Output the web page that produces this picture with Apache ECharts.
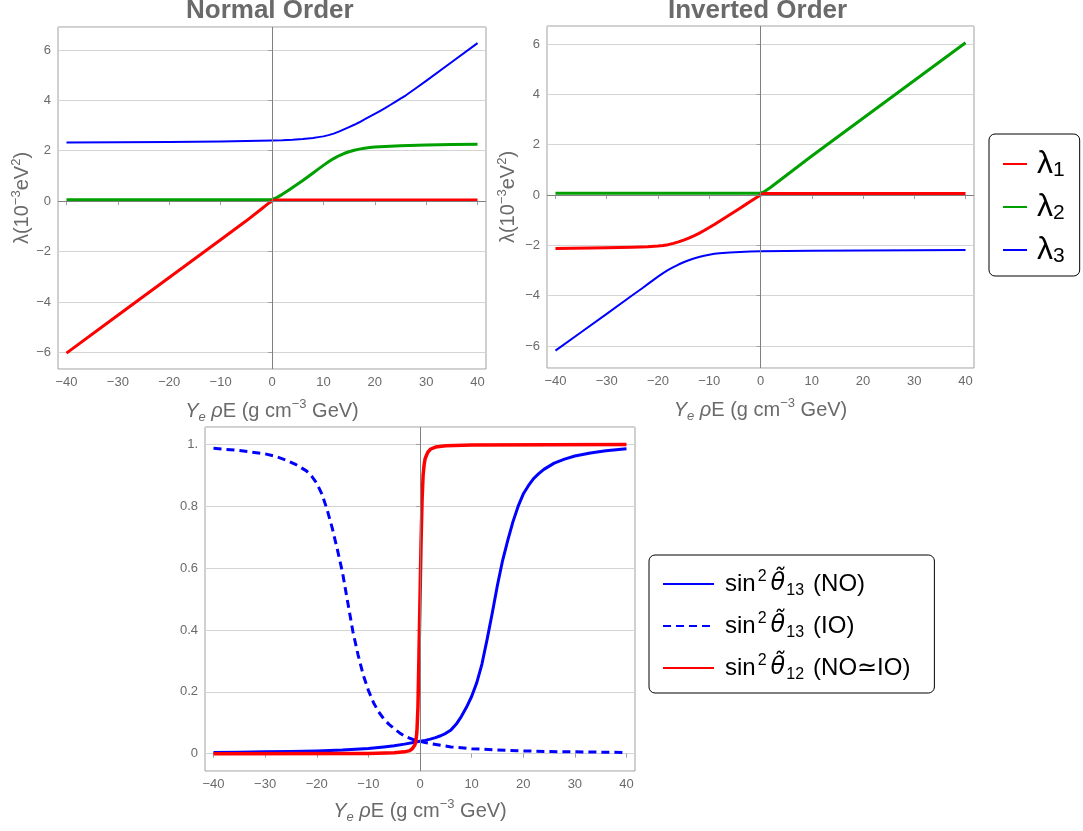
<!DOCTYPE html>
<html>
<head>
<meta charset="utf-8">
<script src="https://cdn.jsdelivr.net/npm/echarts@6/dist/echarts.min.js"></script>
<style>
html,body{margin:0;padding:0;background:#fff;}
#chart{width:1083px;height:831px;}
</style>
</head>
<body>
<div id="chart"></div>
<script>
// ---------- Data ----------
// Normal Order eigenvalues (10^-3 eV^2) vs Ye*rho*E
const noL1X = [-40,-30,-20,-10,-5,-2,-1,-0.5,0,0.5,1,5,10,20,30,40];
const noL1Y = [-6.03,-4.53,-3.03,-1.53,-0.78,-0.3,-0.14,-0.06,0.0,0.04,0.05,0.05,0.05,0.05,0.05,0.05];
const noL2X = [-40,-20,-5,0,1,2,3,4,5,6,7,8,9,10,11,12,13,14,15,16,17,18,19,20,22,25,30,35,40];
const noL2Y = [0.06,0.06,0.06,0.06,0.15,0.27,0.4,0.54,0.68,0.82,0.97,1.12,1.27,1.42,1.56,1.69,1.8,1.89,1.96,2.02,2.065,2.1,2.125,2.145,2.17,2.2,2.23,2.25,2.26];
const noL3X = [-40,-20,-10,-5,0,2,4,6,8,9,10,11,12,13,14,15,16,17,18,19,20,21,22,23,24,25,26,28,30,35,40];
const noL3Y = [2.33,2.35,2.37,2.39,2.41,2.42,2.44,2.47,2.51,2.54,2.57,2.62,2.68,2.76,2.85,2.94,3.03,3.13,3.24,3.35,3.46,3.575,3.69,3.815,3.94,4.065,4.19,4.48,4.77,5.52,6.27];

// Inverted Order eigenvalues
const ioL1X = [-40,-30,-25,-22,-20,-19,-18,-17,-16,-15,-14,-13,-12,-11,-10,-9,-8,-7,-6,-5,-4,-3,-2,-1,0,0.5,1,10,20,30,40];
const ioL1Y = [-2.12,-2.09,-2.07,-2.05,-2.02,-2.0,-1.97,-1.92,-1.86,-1.79,-1.71,-1.62,-1.52,-1.41,-1.29,-1.17,-1.04,-0.91,-0.78,-0.65,-0.52,-0.39,-0.26,-0.13,0.0,0.05,0.06,0.06,0.06,0.06,0.06];
const ioL2X = [-40,-20,-5,-1,0,0.5,1,2,10,20,30,40];
const ioL2Y = [0.07,0.07,0.07,0.07,0.075,0.11,0.17,0.31,1.55,3.05,4.55,6.05];
const ioL3X = [-40,-35,-30,-25,-23,-22,-21,-20,-19,-18,-17,-16,-15,-14,-13,-12,-11,-10,-9,-8,-6,-4,-2,0,10,20,30,40];
const ioL3Y = [-6.18,-5.45,-4.72,-3.98,-3.69,-3.54,-3.39,-3.24,-3.1,-2.97,-2.86,-2.76,-2.67,-2.59,-2.52,-2.46,-2.41,-2.37,-2.335,-2.31,-2.28,-2.26,-2.245,-2.235,-2.21,-2.2,-2.19,-2.18];

// Mixing angles
const s13NOX = [-40,-35,-30,-25,-20,-15,-10,-7,-5,-3,-1,0,1,2,3,4,5,6,7,8,9,10,11,12,13,14,15,16,17,18,19,20,21,22,23,24,26,28,30,33,36,40];
const s13NOY = [0.004,0.005,0.006,0.007,0.009,0.012,0.017,0.022,0.026,0.031,0.037,0.04,0.043,0.047,0.052,0.058,0.066,0.077,0.095,0.12,0.15,0.185,0.23,0.29,0.37,0.455,0.545,0.625,0.69,0.75,0.8,0.84,0.867,0.89,0.906,0.92,0.94,0.953,0.963,0.973,0.98,0.987];
const s13IOX = [-40,-35,-30,-28,-26,-24,-22,-21,-20,-19,-18,-17,-16,-15,-14,-13,-12,-11,-10,-9,-8,-7,-6,-5,-4,-3,-2,-1,0,1,2,4,6,8,10,15,20,25,30,35,40];
const s13IOY = [0.988,0.981,0.97,0.962,0.95,0.935,0.915,0.898,0.875,0.84,0.79,0.73,0.66,0.585,0.49,0.395,0.32,0.255,0.205,0.165,0.135,0.112,0.095,0.081,0.068,0.057,0.05,0.044,0.04,0.036,0.033,0.027,0.022,0.019,0.016,0.012,0.009,0.007,0.006,0.005,0.004];
const s12X = [-40,-10,-5,-3,-2,-1.5,-1,-0.8,-0.6,-0.4,-0.2,0,0.2,0.4,0.6,0.8,1,1.5,2,3,5,10,40];
const s12Y = [0.0,0.001,0.003,0.006,0.01,0.016,0.028,0.04,0.07,0.15,0.32,0.5,0.68,0.82,0.9,0.935,0.955,0.975,0.985,0.992,0.996,0.999,1.0];

// Labels
const topTitles = ['Normal Order', 'Inverted Order'];
const lambdaNames = ['λ1', 'λ2', 'λ3'];
const mixNames = ['s13NO', 's13IO', 's12'];
const mixLabels = {
  s13NO: '{t|sin}{sup|2}{th|θ\u0303}{sub|13}{t|(NO)}',
  s13IO: '{t|sin}{sup|2}{th|θ\u0303}{sub|13}{t|(IO)}',
  s12:   '{t|sin}{sup|2}{th|θ\u0303}{sub|12}{t|(NO≃IO)}'
};

// ---------- Helpers ----------
const zip = (xs, ys) => xs.map((x, i) => [x, ys[i]]);
const FONT = 'Liberation Sans, Arial, sans-serif';
const GRAY = '#6a6a6a';
const FRAME = '#a0a0a0';
const RED = '#ff0000', GREEN = '#00a000', BLUE = '#0000ff';
const minus = v => String(v).replace('-', '\u2212');

const xName = '{i|Y}{sub|e}{n| }{i|ρ}{n|E (g cm}{sup|−3}{n| GeV)}';
const xNameStyle = {
  color: GRAY, fontFamily: FONT, fontSize: 20,
  rich: {
    n: {fontSize: 20, color: GRAY, fontFamily: FONT, lineHeight: 26},
    i: {fontSize: 20, color: GRAY, fontFamily: FONT, fontStyle: 'italic', lineHeight: 26},
    sub: {fontSize: 13, color: GRAY, fontFamily: FONT, fontStyle: 'italic', verticalAlign: 'bottom', lineHeight: 26},
    sup: {fontSize: 13, color: GRAY, fontFamily: FONT, verticalAlign: 'top', lineHeight: 26}
  }
};
const yName = '{n|λ(10}{sup|−3}{n|eV}{sup|2}{n|)}';
const yNameStyle = {
  color: GRAY, fontFamily: FONT, fontSize: 20,
  rich: {
    n: {fontSize: 20, color: GRAY, fontFamily: FONT, lineHeight: 24},
    sup: {fontSize: 13, color: GRAY, fontFamily: FONT, verticalAlign: 'top', lineHeight: 24}
  }
};

function xAxisDef(grid, nameGap) {
  return {
    type: 'value', gridIndex: grid, min: -41.65, max: 41.65, splitNumber: 8,
    axisLine: {show: false},
    axisTick: {show: true, inside: false, length: 4, lineStyle: {color: FRAME}},
    axisLabel: {color: GRAY, fontFamily: FONT, fontSize: 13, margin: 7,
      showMinLabel: false, showMaxLabel: false, formatter: minus},
    splitLine: {show: false},
    name: xName, nameLocation: 'middle', nameGap: nameGap, nameTextStyle: xNameStyle
  };
}
function yAxisDef(grid, min, max, splitNumber, fmt, nameGap) {
  const a = {
    type: 'value', gridIndex: grid, min: min, max: max, splitNumber: splitNumber,
    axisLine: {show: false},
    axisTick: {show: true, inside: false, length: 4, lineStyle: {color: FRAME}},
    axisLabel: {color: GRAY, fontFamily: FONT, fontSize: 13, margin: 7,
      showMinLabel: false, showMaxLabel: false, formatter: fmt},
    splitLine: {show: true, lineStyle: {color: '#d4d4d4', width: 1}}
  };
  if (nameGap) {
    a.name = yName; a.nameLocation = 'middle'; a.nameRotate = 90; a.nameGap = nameGap;
    a.nameTextStyle = yNameStyle;
  }
  return a;
}
function curve(name, xi, yi, xs, ys, color, width, dash) {
  return {
    type: 'line', name: name, xAxisIndex: xi, yAxisIndex: yi,
    data: zip(xs, ys), showSymbol: false, symbol: 'none',
    smooth: false, z: 3, silent: true,
    lineStyle: {color: color, width: width, type: dash || 'solid', join: 'round', cap: 'butt'},
    itemStyle: {color: color}
  };
}
function zeroLines(xi, yi, withH) {
  const data = [{xAxis: 0}];
  if (withH) data.push({yAxis: 0});
  return {
    type: 'line', name: 'zero' + xi, xAxisIndex: xi, yAxisIndex: yi, data: [], z: 1, silent: true,
    markLine: {silent: true, symbol: ['none', 'none'], label: {show: false},
      lineStyle: {color: '#808080', width: 1, type: 'solid'}, animation: false, data: data}
  };
}

const option = {
  animation: false,
  backgroundColor: '#ffffff',
  title: [
    {text: topTitles[0], left: 186, top: -2, padding: 0,
      textStyle: {fontFamily: FONT, fontWeight: 'bold', fontSize: 26, color: GRAY}},
    {text: topTitles[1], left: 668, top: -2, padding: 0,
      textStyle: {fontFamily: FONT, fontWeight: 'bold', fontSize: 26, color: GRAY}}
  ],
  grid: [
    {left: 58, top: 27, width: 428, height: 342, show: true, borderColor: FRAME, borderWidth: 1, backgroundColor: 'transparent'},
    {left: 547, top: 26, width: 427, height: 342, show: true, borderColor: FRAME, borderWidth: 1, backgroundColor: 'transparent'},
    {left: 205, top: 427, width: 430, height: 344, show: true, borderColor: FRAME, borderWidth: 1, backgroundColor: 'transparent'}
  ],
  xAxis: [xAxisDef(0, 29), xAxisDef(1, 29), xAxisDef(2, 27)],
  yAxis: [
    yAxisDef(0, -6.66, 6.91, 7, minus, 23),
    yAxisDef(1, -6.87, 6.715, 7, minus, 27),
    yAxisDef(2, -0.056, 1.057, 5, v => (v === 1 ? '1.' : String(v)), 0)
  ],
  legend: [
    {
      data: lambdaNames, orient: 'vertical', left: 989, top: 134,
      padding: [14, 15, 9, 13], itemGap: 10, itemWidth: 24, itemHeight: 14,
      borderColor: '#000', borderWidth: 1, borderRadius: 6, backgroundColor: '#fff',
      selectedMode: false,
      itemStyle: {opacity: 0},
      lineStyle: {width: 2},
      formatter: n => '{l|λ}{s|' + n.slice(1) + '}',
      textStyle: {padding: [0, 0, 0, 5],
        rich: {
          l: {fontSize: 32, fontFamily: FONT, color: '#000', lineHeight: 34},
          s: {fontSize: 21, fontFamily: FONT, color: '#000', verticalAlign: 'bottom', lineHeight: 34}
        }}
    },
    {
      data: mixNames, orient: 'vertical', left: 649, top: 555,
      padding: [14, 24, 10, 13], itemGap: 12, itemWidth: 51, itemHeight: 14,
      borderColor: '#000', borderWidth: 1, borderRadius: 6, backgroundColor: '#fff',
      selectedMode: false,
      itemStyle: {opacity: 0},
      lineStyle: {width: 2},
      formatter: n => mixLabels[n],
      textStyle: {padding: [0, 0, 0, 6],
        rich: {
          t: {fontSize: 24, fontFamily: FONT, color: '#000', lineHeight: 30},
          th: {fontSize: 24, fontFamily: 'DejaVu Sans, sans-serif', fontStyle: 'italic', color: '#000', lineHeight: 30},
          sup: {fontSize: 16, fontFamily: FONT, color: '#000', verticalAlign: 'top', lineHeight: 30, padding: [0, 4, 0, 2]},
          sub: {fontSize: 16, fontFamily: FONT, color: '#000', verticalAlign: 'bottom', lineHeight: 30, padding: [0, 9, 0, 1]}
        }}
    }
  ],
  series: [
    zeroLines(0, 0, true),
    curve('λ3', 0, 0, noL3X, noL3Y, BLUE, 2),
    curve('λ2', 0, 0, noL2X, noL2Y, GREEN, 3),
    curve('λ1', 0, 0, noL1X, noL1Y, RED, 3),

    zeroLines(1, 1, true),
    curve('λ3', 1, 1, ioL3X, ioL3Y, BLUE, 2),
    curve('λ2', 1, 1, ioL2X, ioL2Y, GREEN, 3),
    curve('λ1', 1, 1, ioL1X, ioL1Y, RED, 3),

    zeroLines(2, 2, false),
    curve('s13NO', 2, 2, s13NOX, s13NOY, BLUE, 3),
    curve('s13IO', 2, 2, s13IOX, s13IOY, BLUE, 3, [8, 5]),
    curve('s12', 2, 2, s12X, s12Y, RED, 3.5)
  ]
};

const chart = echarts.init(document.getElementById('chart'), null, {renderer: 'canvas'});
chart.setOption(option);
</script>
</body>
</html>
